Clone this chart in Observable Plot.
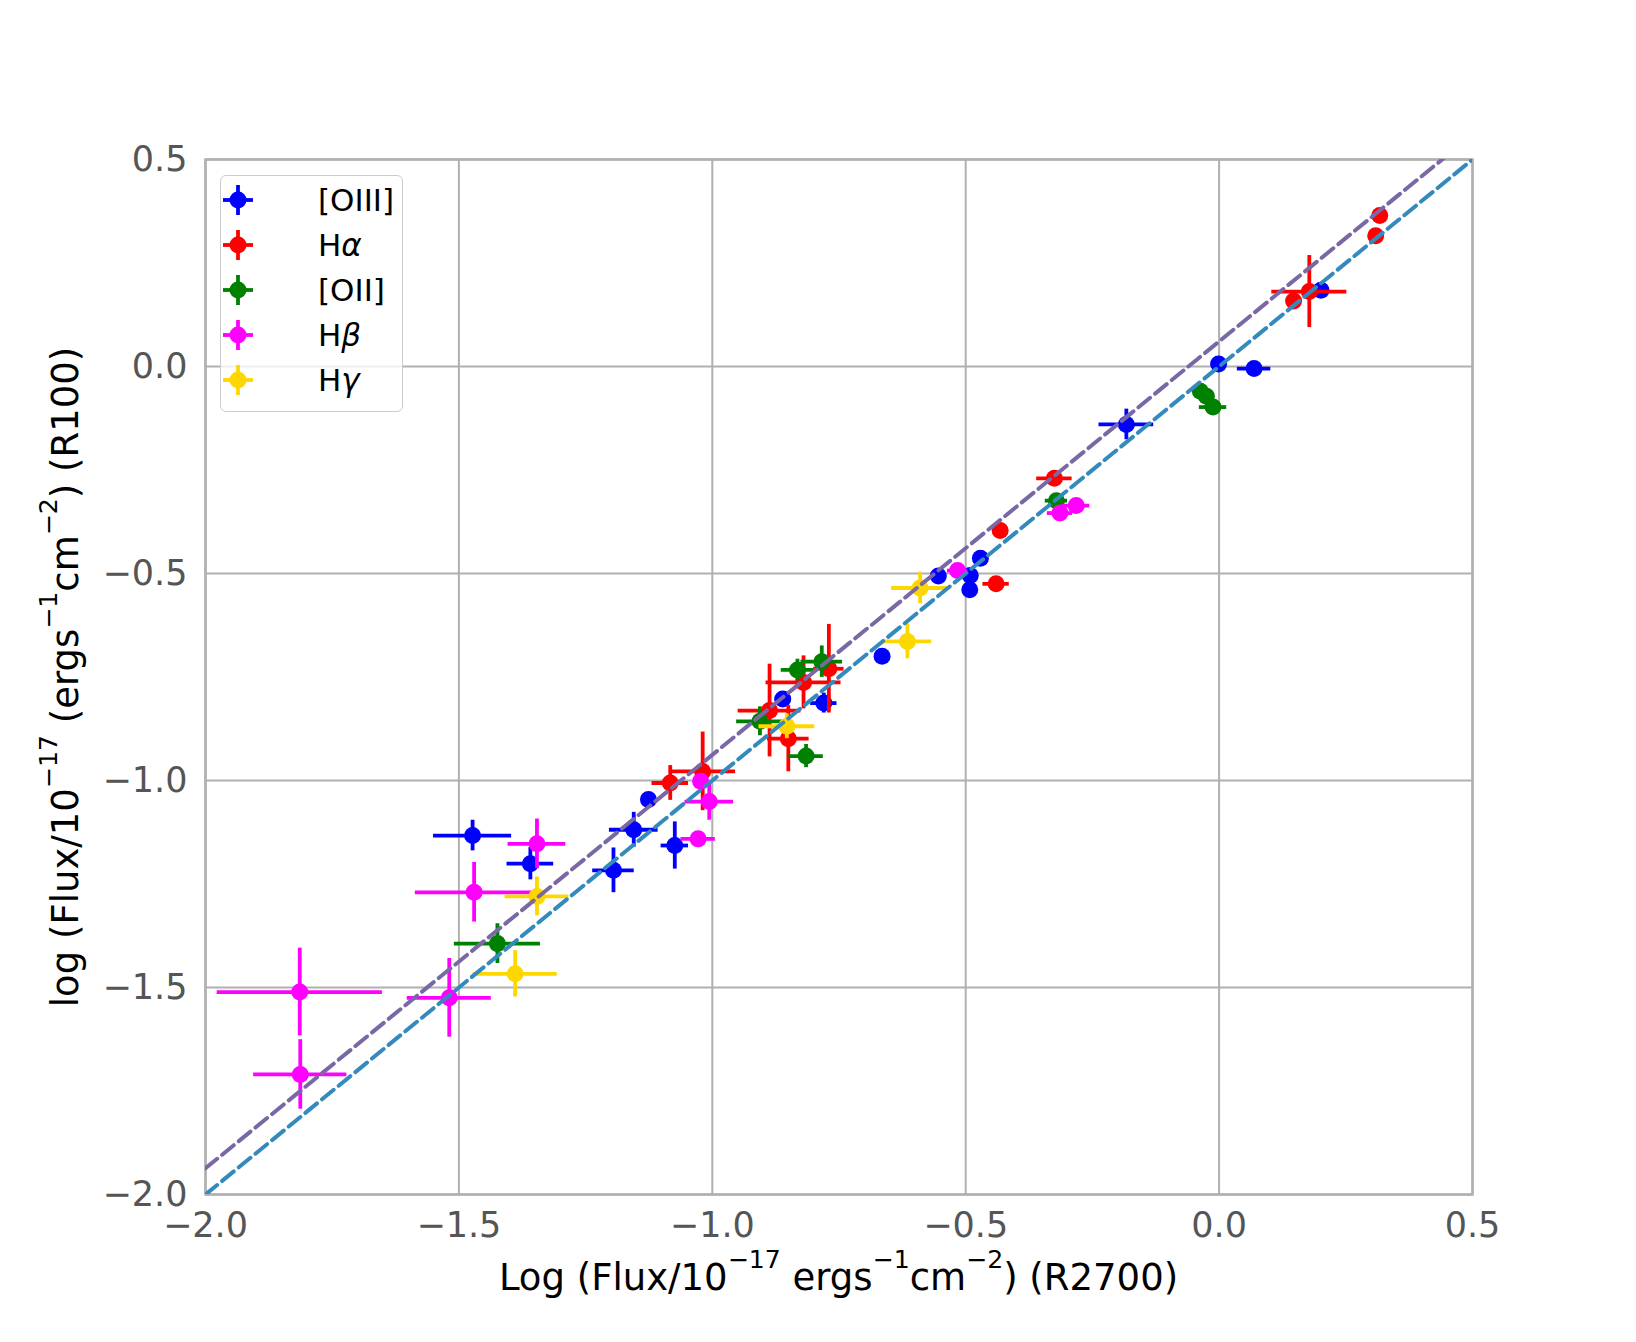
<!DOCTYPE html>
<html>
<head>
<meta charset="utf-8">
<script src="https://cdn.jsdelivr.net/npm/d3@7"></script>
<script src="https://cdn.jsdelivr.net/npm/@observablehq/plot@0.6"></script>
<style>
  html, body { margin: 0; padding: 0; background: #fff; }
  #wrap { position: relative; width: 1636px; height: 1342px; font-family: "DejaVu Sans", sans-serif; }
  #wrap svg { position: absolute; left: 0; top: 0; }
  .lab { position: absolute; white-space: nowrap; line-height: 1; color: #000; font-size: 37px; }
  .sup { font-size: 0.68em; position: relative; top: -0.85em; }
  #legend { position: absolute; left: 220px; top: 175px; width: 183px; height: 237px; box-sizing: border-box;
            border: 1.5px solid #cccccc; border-radius: 6px; background: rgba(255,255,255,0.8); }
  .row { position: absolute; left: 0; height: 34px; display: block; }
  .row svg { position: absolute; left: 25px; top: 0; }
  .row span { position: absolute; left: 97px; top: 50%; transform: translateY(-50%); font-size: 31px; line-height: 1; white-space: nowrap; color: #000; }
</style>
</head>
<body>
<div id="wrap"></div>
<script>
// ---- data ----
const categories = ["[OIII]", "Hα", "[OII]", "Hβ", "Hγ"];
const colors = ["#0000ff", "#ff0000", "#008000", "#ff00ff", "#ffd700"];
const axisTicks = [-2.0, -1.5, -1.0, -0.5, 0.0, 0.5];

// rows: [log flux R2700, log flux R100, x error, y error]
const oiii = [
  [-1.473, -1.133, 0.077, 0.037],
  [-1.359, -1.201, 0.046, 0.039],
  [-1.195, -1.217, 0.041, 0.054],
  [-1.155, -1.119, 0.048, 0.042],
  [-1.126, -1.046, 0.010, 0.010],
  [-1.074, -1.157, 0.027, 0.057],
  [-0.861, -0.803, 0.015, 0.015],
  [-0.780, -0.813, 0.026, 0.024],
  [-0.665, -0.700, 0.000, 0.000],
  [-0.554, -0.506, 0.000, 0.000],
  [-0.491, -0.505, 0.000, 0.000],
  [-0.492, -0.539, 0.000, 0.000],
  [-0.471, -0.463, 0.000, 0.000],
  [-0.183, -0.140, 0.054, 0.037],
  [-0.001, 0.006, 0.000, 0.000],
  [0.069, -0.005, 0.033, 0.015],
  [0.201, 0.184, 0.010, 0.010]
];
const halpha = [
  [-1.083, -1.006, 0.036, 0.042],
  [-1.019, -0.978, 0.065, 0.095],
  [-0.887, -0.831, 0.062, 0.112],
  [-0.850, -0.899, 0.041, 0.080],
  [-0.820, -0.763, 0.074, 0.064],
  [-0.770, -0.730, 0.030, 0.107],
  [-0.440, -0.525, 0.026, 0.010],
  [-0.432, -0.396, 0.000, 0.000],
  [-0.325, -0.270, 0.035, 0.015],
  [0.147, 0.158, 0.000, 0.000],
  [0.178, 0.181, 0.074, 0.087],
  [0.309, 0.316, 0.000, 0.000],
  [0.317, 0.365, 0.000, 0.000]
];
const oii = [
  [-1.424, -1.394, 0.085, 0.048],
  [-0.906, -0.857, 0.046, 0.035],
  [-0.832, -0.733, 0.032, 0.026],
  [-0.784, -0.713, 0.041, 0.038],
  [-0.815, -0.941, 0.034, 0.028],
  [-0.321, -0.324, 0.022, 0.010],
  [-0.037, -0.060, 0.010, 0.010],
  [-0.025, -0.072, 0.010, 0.010],
  [-0.012, -0.098, 0.027, 0.015]
];
const hbeta = [
  [-1.814, -1.511, 0.163, 0.106],
  [-1.813, -1.710, 0.092, 0.084],
  [-1.519, -1.525, 0.083, 0.095],
  [-1.470, -1.270, 0.116, 0.072],
  [-1.346, -1.153, 0.057, 0.060],
  [-1.028, -1.141, 0.034, 0.010],
  [-1.023, -1.002, 0.010, 0.010],
  [-1.006, -1.051, 0.048, 0.045],
  [-0.516, -0.493, 0.020, 0.000],
  [-0.314, -0.354, 0.025, 0.010],
  [-0.282, -0.336, 0.027, 0.010]
];
const hgamma = [
  [-1.346, -1.280, 0.063, 0.047],
  [-1.389, -1.467, 0.083, 0.056],
  [-0.853, -0.869, 0.055, 0.030],
  [-0.615, -0.664, 0.048, 0.042],
  [-0.590, -0.535, 0.056, 0.038]
];
const seriesRows = [oiii, halpha, oii, hbeta, hgamma];

// reference lines
const lineX = [-2.0, 0.5];
const fitSlope = 0.9986;
const fitIntercept = 0.0605;

// ---- build ----
const marks = [
  Plot.gridX(axisTicks, {stroke: "#b0b0b0", strokeOpacity: 1, strokeWidth: 2}),
  Plot.gridY(axisTicks, {stroke: "#b0b0b0", strokeOpacity: 1, strokeWidth: 2}),
  Plot.frame({stroke: "#b0b0b0", strokeWidth: 2.5}),
  Plot.axisX(axisTicks, {tickSize: 0, tickPadding: 18, fontSize: 35, color: "#555", tickFormat: d3.format(".1f"), label: null}),
  Plot.axisY(axisTicks, {tickSize: 0, tickPadding: 18, fontSize: 35, color: "#555", tickFormat: d3.format(".1f"), label: null})
];
seriesRows.forEach((rows, i) => {
  const data = rows.map(([x, y, xe, ye]) => ({x, y, xe, ye}));
  const c = colors[i];
  marks.push(
    Plot.ruleY(data, {y: "y", x1: d => d.x - d.xe, x2: d => d.x + d.xe, stroke: c, strokeWidth: 3.8}),
    Plot.ruleX(data, {x: "x", y1: d => d.y - d.ye, y2: d => d.y + d.ye, stroke: c, strokeWidth: 3.8}),
    Plot.dot(data, {x: "x", y: "y", r: 8.5, fill: c, stroke: "none"})
  );
});
const fitData = lineX.map(x => ({x, y: fitSlope * x + fitIntercept}));
const oneData = lineX.map(x => ({x, y: x}));
marks.push(
  Plot.line(fitData, {x: "x", y: "y", stroke: "#7a68a6", strokeWidth: 4, strokeDasharray: "15,6.5", clip: true}),
  Plot.line(oneData, {x: "x", y: "y", stroke: "#348abd", strokeWidth: 4, strokeDasharray: "15,6.5", clip: true})
);

const chart = Plot.plot({
  width: 1636,
  height: 1342,
  marginLeft: 205,
  marginRight: 164,
  marginTop: 159,
  marginBottom: 148,
  style: {fontFamily: "DejaVu Sans", background: "#fff", overflow: "visible"},
  x: {domain: [-2.0, 0.5]},
  y: {domain: [-2.0, 0.5]},
  marks
});

const wrap = document.getElementById("wrap");
wrap.appendChild(chart);

// axis labels
const xl = document.createElement("div");
xl.className = "lab";
xl.style.left = "838.5px"; xl.style.top = "1276.5px";
xl.style.transform = "translate(-50%,-50%)";
xl.innerHTML = 'Log (Flux/10<span class="sup">\u221217</span> ergs<span class="sup">\u22121</span>cm<span class="sup">\u22122</span>) (R2700)';
wrap.appendChild(xl);

const yl = document.createElement("div");
yl.className = "lab";
yl.style.left = "65px"; yl.style.top = "676.5px";
yl.style.transform = "translate(-50%,-50%) rotate(-90deg)";
yl.innerHTML = 'log (Flux/10<span class="sup">\u221217</span> (ergs<span class="sup">\u22121</span>cm<span class="sup">\u22122</span>) (R100)';
wrap.appendChild(yl);

// legend
const leg = document.createElement("div");
leg.id = "legend";
categories.forEach((name, i) => {
  const row = document.createElement("div");
  row.className = "row";
  row.style.top = (25 + 45 * i - 17 - 1.5) + "px";
  row.style.width = "100%";
  const c = colors[i];
  row.innerHTML =
    `<svg width="34" height="34" viewBox="0 0 34 34">
       <line x1="2" y1="17" x2="32" y2="17" stroke="${c}" stroke-width="3.8"/>
       <line x1="17" y1="2" x2="17" y2="32" stroke="${c}" stroke-width="3.8"/>
       <circle cx="17" cy="17" r="8.5" fill="${c}"/>
     </svg>` +
    `<span>${name.replace(/([αβγ])/g, "<i>$1</i>")}</span>`;
  leg.appendChild(row);
});
wrap.appendChild(leg);
</script>
</body>
</html>
